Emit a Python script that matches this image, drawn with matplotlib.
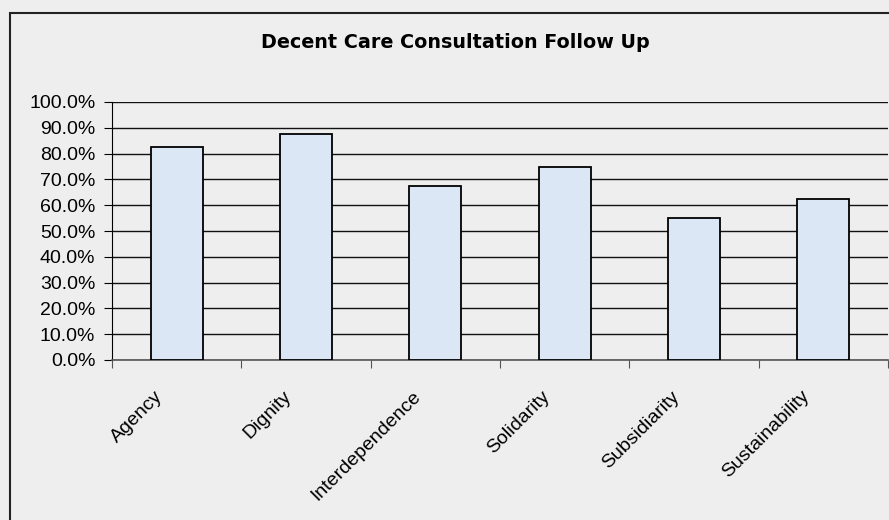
import matplotlib.pyplot as plt
from matplotlib.patches import Rectangle
from matplotlib.ticker import FuncFormatter
from matplotlib.transforms import ScaledTranslation

# Data
categories = ['Agency', 'Dignity', 'Interdependence', 'Solidarity',
              'Subsidiarity', 'Sustainability']
values = [82.5, 87.5, 67.5, 75.0, 55.0, 62.5]

plt.rcParams['font.family'] = ['Liberation Sans', 'DejaVu Sans']

bg = '#eeeeee'
fig = plt.figure(figsize=(8.89, 5.2), dpi=100, facecolor=bg)
ax = fig.add_axes([112 / 889, 1 - 360 / 520, 776 / 889, 258 / 520])
ax.set_facecolor(bg)

# Outer chart frame (bottom and right run off the image)
fig.patches.append(Rectangle((10 / 889, -0.05), 1.0, 1 - 13 / 520 + 0.05,
                             transform=fig.transFigure, fill=False,
                             edgecolor='#222222', linewidth=1.5))

x = list(range(len(categories)))
ax.bar(x, values, width=0.4, color='#dce7f5', edgecolor='black',
       linewidth=1.3, zorder=3)

ax.set_xlim(-0.5, len(categories) - 0.5)
ax.set_ylim(0, 100)
ax.set_yticks(range(0, 101, 10))
ax.yaxis.set_major_formatter(FuncFormatter(lambda v, p: f'{v:.1f}%'))
ax.grid(axis='y', color='#111111', linewidth=1.0, zorder=0)

# Ticks at category boundaries, labels at centres
ax.set_xticks([i - 0.5 for i in range(len(categories) + 1)])
ax.set_xticklabels([])
ax.set_xticks(x, minor=True)
ax.set_xticklabels(categories, minor=True, rotation=45, ha='right',
                   rotation_mode='anchor', fontsize=14)
ax.tick_params(axis='x', which='minor', length=0, pad=20)
ax.tick_params(axis='x', which='major', length=6, color='#555555')
ax.tick_params(axis='y', length=6, labelsize=14, pad=6)

shift = ScaledTranslation(-23 / 100, 0, fig.dpi_scale_trans)
for lbl in ax.get_xticklabels(minor=True):
    lbl.set_transform(lbl.get_transform() + shift)

for s in ['top', 'right']:
    ax.spines[s].set_visible(False)
ax.spines['left'].set_color('black')
ax.spines['bottom'].set_color('#555555')
ax.spines['bottom'].set_linewidth(1.2)

fig.text(455 / 889, 1 - 42 / 520, 'Decent Care Consultation Follow Up',
         ha='center', va='center', fontsize=13.8, fontweight='bold',
         family='DejaVu Sans')

fig.savefig('out.png', dpi=100, facecolor=bg)
